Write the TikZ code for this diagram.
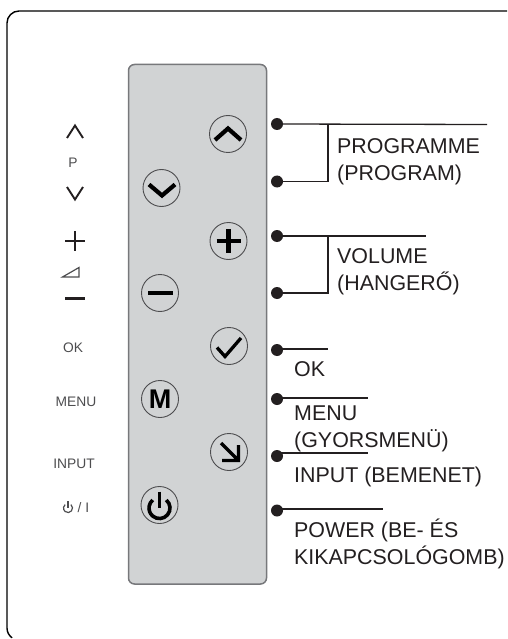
\documentclass[tikz,border=0pt]{standalone}
\usepackage{fontspec}
\setmainfont{Liberation Sans}
\definecolor{panelfill}{HTML}{D1D3D4}
\definecolor{panelline}{HTML}{77787B}
\definecolor{txt}{HTML}{231F20}
\definecolor{grey}{HTML}{4D4D4F}
\tikzset{
  btn/.style={circle,draw=grey,line width=0.9pt,fill=panelfill,minimum size=37pt,inner sep=0pt},
  glyph/.style={draw=black,line width=4.2pt,fill=none},
  small/.style={draw=txt,line width=1.9pt},
  dotnode/.style={circle,fill=txt,minimum size=12pt,inner sep=0pt},
  conn/.style={draw=txt,line width=1.3pt},
  lab/.style={anchor=base west,inner sep=0pt,text=txt,font=\fontsize{21.4}{27}\selectfont,align=left},
  leg/.style={inner sep=0pt,text=grey,font=\fontsize{13.8}{16}\selectfont}
}
\begin{document}
\begin{tikzpicture}[x=1pt,y=-1pt]
\useasboundingbox (0,0) rectangle (507,639);
% frame
\draw[black,line width=1.4pt] (507,11) -- (19,11) arc[start angle=270,end angle=180,radius=12] -- (7,628) arc[start angle=180,end angle=125,radius=12];
% panel
\draw[draw=panelline,fill=panelfill,line width=1.5pt,rounded corners=6pt] (128.5,64.5) rectangle (266.5,584);
% buttons
\node[btn] (b1) at (228,134) {};
\node[btn] (b2) at (161.5,188) {};
\node[btn] (b3) at (228.5,241) {};
\node[btn] (b4) at (160,293) {};
\node[btn] (b5) at (229,346) {};
\node[btn] (b6) at (160,399) {};
\node[btn] (b7) at (229,452) {};
\node[btn] (b8) at (159.5,505) {};
% glyphs
\draw[glyph] (215,140) -- (228,128.5) -- (241,140);
\draw[glyph] (149,184.5) -- (162,195.5) -- (175,184.5);
\draw[glyph] (216.5,241) -- (240.5,241) (228.5,229) -- (228.5,253);
\draw[glyph] (148,293) -- (172.5,293);
\draw[glyph,line width=3.3pt] (217,347.5) -- (225,356.5) -- (241,338);
\node[inner sep=0pt,font=\bfseries\fontsize{27}{27}\selectfont] (mglyph) at (160,399.5) {M};
\draw[glyph,line width=3.3pt] (221,443) -- (238,460) (238.5,445) -- (238.5,460.5) -- (222,460.5);
\draw[glyph,line width=3.6pt] (166.25,500) arc[start angle=-50,end angle=230,radius=10.5];
\draw[glyph,line width=3.6pt] (159.5,491.5) -- (159.5,507.5);
% legend
\draw[small] (67,138) -- (75,125.5) -- (83,138);
\node[leg] (lp) at (73,162.5) {P};
\draw[small] (67,187) -- (75,199.5) -- (83,187);
\draw[small,line width=2.6pt] (65,241) -- (85,241) (75,231) -- (75,251);
\draw[small,draw=grey,line width=1.2pt,line join=miter] (62.5,277) -- (79,267.5) -- (79,277) -- cycle;
\draw[small,line width=2.6pt] (65,298.5) -- (85,298.5);
\node[leg] (lok) at (73,348) {OK};
\node[leg] (lmenu) at (76,402) {MENU};
\node[leg] (linput) at (74,464) {INPUT};
\draw[draw=grey,line width=1.2pt] (70.9,504.6) arc[start angle=-50,end angle=230,radius=4.5];
\draw[draw=grey,line width=1.2pt] (68,501) -- (68,507.5);
\node[leg] (lpow) at (83.5,508) {/ I};
% dots
\node[dotnode] (d1) at (277,124) {};
\node[dotnode] (d2) at (277,181.5) {};
\node[dotnode] (d3) at (277,236) {};
\node[dotnode] (d4) at (277,293) {};
\node[dotnode] (d5) at (277,350) {};
\node[dotnode] (d6) at (277,399) {};
\node[dotnode] (d7) at (277,456) {};
\node[dotnode] (d8) at (277,510.5) {};
% connector ends
\coordinate (e1) at (487,124.5);
\coordinate (v1) at (328,124.5);
\coordinate (e3) at (426,236);
\coordinate (v3) at (328,236);
\coordinate (e5) at (328,349);
\coordinate (e6) at (368,398);
\coordinate (e7) at (368,453);
\coordinate (e8) at (383,509);
\draw[conn] (d1.center) -- (e1);
\draw[conn] (v1) -- (v1 |- d2) -- (d2.center);
\draw[conn] (d3.center) -- (e3);
\draw[conn] (v3) -- (v3 |- d4) -- (d4.center);
\draw[conn] (d5.center) ++(0,-1) -- (e5);
\draw[conn] (d6.center) ++(0,-1) -- (e6);
\draw[conn] (d7.center) ++(0,-3) -- (e7);
\draw[conn] (d8.center) ++(0,-1.5) -- (e8);
% labels
\node[lab] (t1) at (337,180) {PROGRAMME\\(PROGRAM)};
\node[lab] (t2) at (337,290) {VOLUME\\(HANGERŐ)};
\node[lab] (t3) at (294,376) {OK};
\node[lab] (t4) at (294,447.5) {MENU\\(GYORSMENÜ)};
\node[lab] (t5) at (294,482) {INPUT (BEMENET)};
\node[lab] (t6) at (294,564) {POWER (BE- ÉS\\KIKAPCSOLÓGOMB)};
\end{tikzpicture}
\end{document}
